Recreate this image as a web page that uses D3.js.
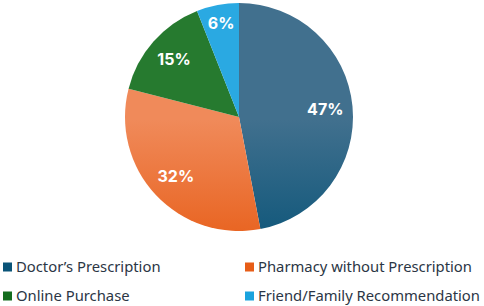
<!DOCTYPE html>
<html>
<head>
<meta charset="utf-8">
<script src="https://cdn.jsdelivr.net/npm/d3@7"></script>
<style>
  body { margin: 0; background: #fff; }
</style>
</head>
<body>
<div id="chart"></div>
<script>
// data
const categories = ["Doctor’s Prescription", "Pharmacy without Prescription", "Online Purchase", "Friend/Family Recommendation"];
const values = [47, 32, 15, 6];
const colorsTop = ["#41708e", "#f08a5a", "#267a2f", "#2aa9e2"];
const colorsBottom = ["#0a5478", "#e75d17", "#146d1e", "#1aa3de"];

const width = 484;
const height = 306;
const cx = 239;
const cy = 117;
const radius = 114;

const svg = d3.select("#chart")
  .append("svg")
  .attr("width", width)
  .attr("height", height)
  .attr("viewBox", [0, 0, width, height]);

// vertical gradients per slice
const defs = svg.append("defs");
categories.forEach((c, i) => {
  const g = defs.append("linearGradient")
    .attr("id", "grad" + i)
    .attr("gradientUnits", "userSpaceOnUse")
    .attr("x1", 0).attr("y1", cy - radius)
    .attr("x2", 0).attr("y2", cy + radius);
  g.append("stop").attr("offset", "0%").attr("stop-color", colorsTop[i]);
  g.append("stop").attr("offset", "60%").attr("stop-color", colorsBottom[i]);
});

const pie = d3.pie().sort(null).value(d => d.value);
const arcs = pie(categories.map((c, i) => ({ name: c, value: values[i], i })));

const arc = d3.arc().innerRadius(0).outerRadius(radius);

const g = svg.append("g").attr("transform", `translate(${cx},${cy})`);

g.selectAll("path")
  .data(arcs)
  .join("path")
  .attr("d", arc)
  .attr("fill", d => `url(#grad${d.data.i})`);

// labels
g.selectAll("text")
  .data(arcs)
  .join("text")
  .attr("transform", d => {
    const k = d.data.value < 10 ? 0.84 : 0.76;
    const a = (d.startAngle + d.endAngle) / 2;
    return `translate(${Math.sin(a) * radius * k},${-Math.cos(a) * radius * k})`;
  })
  .attr("text-anchor", "middle")
  .attr("dy", "0.36em")
  .attr("fill", "#fff")
  .attr("font-family", "Inter, 'Noto Sans', sans-serif")
  .attr("font-weight", "bold")
  .attr("font-size", 16)
  .text(d => d.data.value + "%");

// legend
const legendX = [3, 245];
const legendY = [267, 296];
const legend = svg.append("g")
  .attr("font-family", "'Noto Sans', sans-serif")
  .attr("font-size", 14.8)
  .attr("fill", "#2b3645");

categories.forEach((c, i) => {
  const x = legendX[i % 2];
  const y = legendY[Math.floor(i / 2)];
  legend.append("rect")
    .attr("x", x).attr("y", y - 4.5)
    .attr("width", 9).attr("height", 9)
    .attr("fill", colorsBottom[i]);
  legend.append("text")
    .attr("x", x + 13).attr("y", y)
    .attr("dy", "0.35em")
    .text(c);
});
</script>
</body>
</html>
